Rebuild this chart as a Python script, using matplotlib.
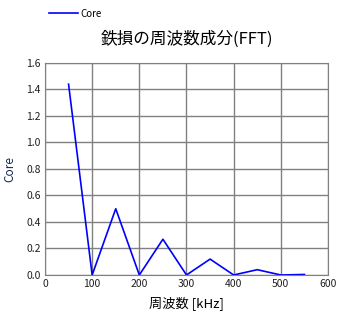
import matplotlib.pyplot as plt

plt.rcParams['font.family'] = ['Noto Sans CJK JP', 'DejaVu Sans']

freq = [50, 100, 150, 200, 250, 300, 350, 400, 450, 500, 550]
core = [1.44, 0.0, 0.50, 0.0, 0.27, 0.0, 0.12, 0.0, 0.04, 0.0, 0.004]

fig = plt.figure(figsize=(3.46, 3.15), dpi=100)
ax = fig.add_axes([0.130, 0.127, 0.818, 0.673])

line, = ax.plot(freq, core, color='#0000ff', lw=1.2, label='Core')

ax.set_xlim(0, 600)
ax.set_ylim(0, 1.6)
ax.set_xticks(range(0, 601, 100))
ax.set_yticks([i * 0.2 for i in range(9)])
ax.set_yticklabels(['%.1f' % (i * 0.2) for i in range(9)])
ax.grid(True, color='#808080', lw=1)
ax.set_axisbelow(True)
for s in ax.spines.values():
    s.set_color('#808080')
ax.tick_params(length=0, labelsize=7.5, colors='#202020', pad=3)

ax.set_title('鉄損の周波数成分(FFT)', fontsize=12, pad=14)
ax.set_xlabel('周波数 [kHz]', fontsize=9.5, labelpad=5)
ax.set_ylabel('Core', fontsize=8.5, color='#1a2a50', labelpad=7)

fig.legend(handles=[line], loc='upper left', bbox_to_anchor=(0.115, 1.0),
           frameon=False, fontsize=7, handlelength=3.0, handletextpad=0.3)

fig.savefig('out.png', dpi=100)
